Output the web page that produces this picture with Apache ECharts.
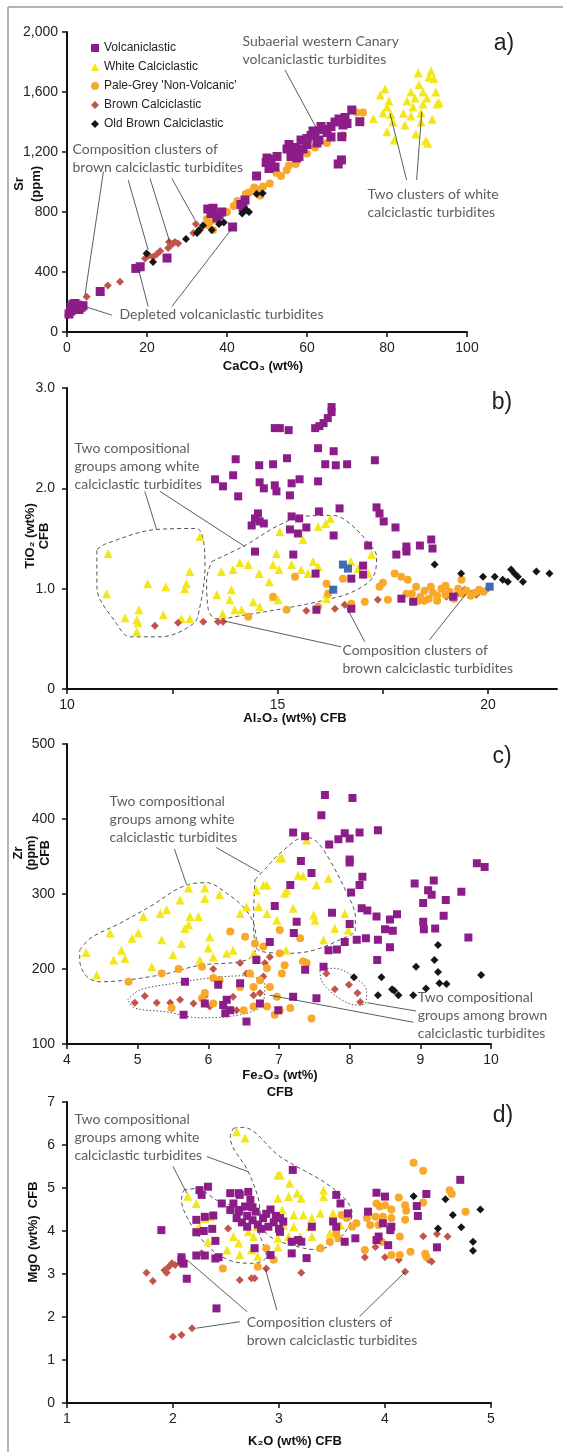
<!DOCTYPE html>
<html>
<head>
<meta charset="utf-8">
<title>Turbidite geochemistry</title>
<script src="https://cdn.jsdelivr.net/npm/echarts@6/dist/echarts.min.js"></script>
</head>
<body style="margin:0;background:#fff">
<div id="chart" style="width:563px;height:1452px"></div>
<script>
// ---- panel a : CaCO3 vs Sr
var aVolc = [[0.5,120],[1,140],[1,165],[1.5,150],[2,170],[2,190],[2.5,180],[3,150],[3,175],[3.5,165],[4,175],[1.5,185],
  [8.3,270],[17.2,424],[18.3,435],[25,493],[35.2,820],[36.5,825],[38,780],[38.7,800],[37.5,760],[36,790],
  [41.4,700],[43.5,850],[44.5,880],[44,830],[47.4,1040],[49.8,1130],[51,1150],[52,1100],[50.5,1090],[52.5,1170],[50,1160],
  [55.5,1250],[56,1170],[58,1170],[57,1230],[58.5,1280],[57.4,1160],[55,1220],
  [60,1290],[61,1310],[62,1320],[63,1280],[64,1350],[65,1330],[62.5,1260],[60,1250],[66,1300],[59,1220],[61.5,1340],[63.5,1370],
  [66,1370],[67,1400],[68,1420],[69,1380],[70,1390],[71.2,1480],[68.7,1302],[68.6,1147],[67.8,1120],[73.2,1402],[69.5,1430]];
var aWhite = [[76.6,1424],[78.3,1580],[79.5,1620],[80,1500],[79,1460],[81,1450],[80.5,1540],[81.5,1400],[80,1335],[81.8,1280],
  [84.1,1458],[85,1540],[86,1600],[86.5,1500],[87,1560],[87.8,1729],[88,1650],[88.5,1460],[89,1600],[89,1520],[89.7,1276],
  [90.5,1700],[90,1560],[91,1740],[91.3,1418],[91.7,1690],[92.2,1600],[92.5,1520],[93,1530],[87.2,1320],[90.2,1258],[86,1440],[84.5,1380],[88.5,1400]];
var aPale = [[35,753],[35.3,713],[36,740],[36.5,680],[40,800],[41.7,840],[42.6,873],[44.7,920],[46.8,963],[48.3,910],[49,970],
  [50.7,990],[52.4,1060],[54.9,1080],[57.2,1120],[60,1190],[62,1230],[65,1260],[69,1311],[72.4,1464],[74,1464],[45.5,930],[47.5,950],[53.5,1040],[55.5,1110]];
var aBrown = [[0.3,113],[1,130],[2,150],[4.9,235],[10.2,310],[13.25,335],[19.5,490],[20.5,510],[21.5,500],[22.5,520],[23.3,540],
  [25.3,560],[26,580],[26.5,590],[27,600],[27.8,590],[25.5,600],[31.6,660],[32.2,720],[33.3,680]];
var aOld = [[19.9,524],[21.5,467],[29.75,620],[32.5,660],[33,680],[34,710],[36.2,680],[38,720],[39.2,730],[43.8,790],[44.8,815],[45.5,800],[47.4,920],[48.9,925]];
var aNotes = [
  {at:[44,1993], text:'Subaerial western Canary\nvolcaniclastic turbidites'},
  {at:[75.25,973], text:'Two clusters of white\ncalciclastic turbidites'},
  {at:[1.5,1273], text:'Composition clusters of\nbrown calciclastic turbidites'},
  {at:[13.25,173], text:'Depleted volcaniclastic turbidites'}
];
var aLeaders = [[[54.5,1747],[62.4,1357]],[[84.9,1013],[80.75,1458]],[[87.4,1013],[88.7,1469]],
  [[9.1,1069],[4.5,247]],[[15.3,1013],[20.3,547]],[[20.75,1024],[25.75,595]],[[26.2,1024],[32,747]],
  [[11.2,113],[4.5,169]],[[20.3,169],[17.8,425]],[[26.2,169],[41.6,702]]];

// ---- panel b : Al2O3 vs TiO2
var bVolc = [[16.29,2.81],[16.29,2.76],[15.9,2.6],[16.0,2.62],[16.1,2.65],[16.2,2.7],[14.94,2.6],[15.06,2.6],[15.27,2.58],
  [15.97,2.4],[16.34,2.37],[14.01,2.29],[14.57,2.23],[14.9,2.24],[15.23,2.3],[16.14,2.24],[16.39,2.23],[16.66,2.24],[17.32,2.28],
  [13.52,2.09],[13.71,2.02],[13.95,2.13],[14.07,1.92],[14.58,2.06],[14.68,2.0],[14.94,2.03],[14.98,1.97],[15.34,2.05],[15.53,2.09],[15.3,1.93],[15.97,2.07],
  [14.54,1.75],[14.39,1.63],[14.58,1.67],[14.68,1.65],[14.47,1.7],[15.34,1.72],[15.52,1.7],[15.69,1.61],[15.3,1.59],[15.49,1.55],
  [15.99,1.77],[16.48,1.8],[16.34,1.53],[17.36,1.81],[17.43,1.75],[17.53,1.67],[17.81,1.61],[17.16,1.43],[17.04,1.23],
  [17.83,1.34],[18.07,1.42],[18.07,1.37],[18.39,1.43],[18.66,1.49],[18.69,1.4],[14.47,1.37],[15.38,1.34],
  [15.91,1.15],[16.76,1.1],[17.04,1.14],[17.95,0.9],[18.23,0.87],[15.93,0.79],[16.76,0.8],[19.18,0.92]];
var bWhite = [[10.98,1.35],[10.94,0.95],[13.16,1.52],[12.92,1.17],[12.84,1.05],[12.8,1.0],[11.92,1.05],[12.35,1.02],
  [11.38,0.71],[11.71,0.79],[11.66,0.69],[11.69,0.66],[11.66,0.57],[12.29,0.74],[12.72,0.7],[12.92,0.7],
  [13.67,1.17],[13.95,1.19],[14.11,1.26],[14.31,1.24],[14.57,1.15],[14.81,1.07],[15.04,1.19],[14.9,1.24],[14.98,1.35],
  [13.56,0.94],[13.91,0.99],[13.87,0.89],[13.7,0.75],[13.99,0.79],[14.15,0.79],[14.43,0.87],[14.58,0.82],[14.9,0.92],[15.02,0.89],
  [15.06,1.57],[15.61,1.49],[15.34,1.24],[15.57,1.19],[15.85,1.27],[15.97,1.22],[15.73,1.15],[15.97,1.62],[16.15,1.65],[16.26,1.7],
  [16.75,1.27],[16.92,1.2],[17.24,1.34],[17.16,1.15],[16.17,0.9],[16.17,0.95]];
var bPale = [[15.42,1.12],[14.9,0.92],[15.22,0.79],[14.31,0.72],[15.97,0.82],[16.17,1.05],[16.21,0.95],[16.56,1.1],[16.76,0.85],
  [17.08,0.87],[17.43,1.02],[17.51,1.06],[17.63,0.89],[17.79,1.15],[17.95,1.12],[18.1,1.09],[18.07,0.95],
  [18.2,0.95],[18.4,0.92],[18.5,0.98],[18.6,0.9],[18.7,0.96],[18.8,0.93],[18.9,1.0],[19.0,0.94],[19.1,0.97],[19.2,0.9],[19.3,1.0],
  [19.4,0.95],[19.5,0.98],[19.6,0.93],[19.7,0.96],[19.8,0.99],[18.3,1.02],[18.8,0.88],[19.0,1.03],[18.5,0.88],[19.9,0.97],[19.38,1.09],[18.35,0.88],[18.65,1.02]];
var bBrown = [[12.09,0.63],[12.64,0.66],[13.24,0.67],[13.59,0.67],[13.71,0.67],[15.69,0.78],[15.93,0.79],[16.37,0.8],[16.6,0.84],[17.39,0.89],
  [19.02,0.92],[19.26,0.94],[19.45,0.99],[19.61,0.95],[19.73,0.94],[20.0,1.0]];
var bOld = [[18.74,1.24],[19.37,1.15],[19.89,1.12],[20.17,1.12],[20.36,1.09],[20.48,1.07],[20.56,1.19],[20.64,1.15],[20.72,1.12],[20.84,1.07],[21.16,1.17],[21.47,1.15]];
var bBlue = [[16.56,1.24],[16.68,1.2],[16.33,0.99],[20.05,1.02]];
var bNotes = [
  {at:[10.19,2.48], text:'Two compositional\ngroups among white\ncalciclastic turbidites'},
  {at:[16.56,0.47], text:'Composition clusters of\nbrown calciclastic turbidites'}
];
var bLeaders = [[[11.85,1.97],[12.13,1.59]],[[12.21,1.97],[14.23,1.42]],
  [[16.52,0.42],[13.71,0.68]],[[17.08,0.47],[16.64,0.82]],[[18.62,0.49],[19.49,0.95]]];
var bDashed = [
  [[10.71,1.39],[10.94,1.45],[12.13,1.59],[13.08,1.6],[13.24,1.49],[13.28,1.22],[13.16,0.82],[13.0,0.65],[12.21,0.52],[11.5,0.52],[11.18,0.65],[10.71,1.02],[10.71,1.39]],
  [[13.44,1.27],[14.27,1.44],[14.98,1.62],[15.61,1.72],[16.33,1.73],[16.72,1.65],[17.2,1.44],[17.36,1.32],[17.28,1.12],[16.8,0.97],[16.17,0.89],[15.38,0.82],[14.27,0.74],[13.56,0.7],[13.36,0.79],[13.32,1.09],[13.44,1.27]]
];

// ---- panel c : Fe2O3 vs Zr
var cVolc = [[7.65,432],[8.04,428],[7.6,405],[7.2,382],[7.37,377],[7.71,366],[7.84,373],[7.93,381],[8.0,374],[8.14,382],[8.4,385],
  [7.31,344],[7.46,328],[7.16,312],[8.0,346],[8.0,342],[8.18,323],[8.14,312],[8.02,302],[8.17,281],[8.25,278],[8.38,270],[8.57,266],[8.67,273],
  [8.5,253],[8.61,251],[8.4,239],[8.57,229],[8.39,212],[7.75,275],[7.25,263],[7.21,248],[8.0,260],[8.1,239],[8.23,241],[7.93,236],[7.82,226],[7.7,225],[7.63,203],[7.37,199],
  [7.2,163],[7.53,161],[8.92,314],[9.19,318],[9.11,305],[9.16,299],[9.04,288],[9.36,292],[9.58,303],[9.33,271],[9.04,263],[9.05,253],[9.21,254],[9.68,242],[9.8,341],[9.91,336],
  [6.94,284],[6.87,236],[6.68,212],[5.67,183],[6.14,179],[6.45,181],[5.95,154],[6.21,152],[6.26,159],[6.31,145],[6.24,141],[6.73,154],[5.65,139],[6.54,130],[6.99,145]];
var cWhite = [[4.27,222],[4.42,192],[4.61,248],[4.66,212],[4.77,225],[4.82,214],[4.92,241],[5.01,248],[5.08,270],[5.2,203],[5.32,274],[5.34,239],[5.41,279],
  [5.5,219],[5.62,234],[5.67,254],[5.72,259],[5.74,270],[5.6,292],[5.72,308],[5.86,270],[5.88,212],[5.95,294],[5.95,308],[6.02,243],[6.0,228],[6.07,216],
  [6.16,299],[6.26,221],[6.35,225],[6.45,274],[6.54,283],[6.64,221],[6.68,305],[6.78,312],[6.83,312],[6.71,283],[6.83,274],[6.97,265],[7.01,348],
  [7.39,372],[7.04,348],[7.27,325],[7.34,324],[7.53,312],[7.7,321],[7.08,301],[7.11,305],[7.2,281],[7.49,272],[7.51,265],[7.79,254],[7.93,274],[7.98,252],[7.63,239],[7.1,225]];
var cPale = [[4.87,183],[5.34,194],[5.58,200],[5.48,148],[5.91,203],[5.95,168],[6.07,188],[6.16,185],[5.91,161],[6.07,154],[6.31,250],[6.52,243],[6.66,234],[6.68,214],[6.78,230],
  [6.45,176],[6.64,176],[6.59,194],[6.73,185],[6.83,201],[6.87,176],[6.94,139],[6.83,150],[6.64,150],[6.5,145],[6.97,163],
  [7.01,252],[7.3,241],[7.01,221],[7.08,205],[7.04,194],[7.34,210],[7.39,208],[7.16,148],[7.01,145],[7.46,134]];
var cBrown = [[4.96,155],[5.1,164],[5.27,155],[5.46,155],[5.6,159],[5.79,154],[5.95,164],[6.02,150],[6.07,200],[6.16,186],[6.35,163],[6.4,145],
  [6.45,208],[6.54,194],[6.64,165],[6.73,168],[6.78,190],[6.8,208],[6.87,216],[7.67,194],[7.79,173],[7.99,179],[8.11,168],[8.15,156]];
var cOld = [[8.06,189],[8.45,189],[8.4,165],[8.6,173],[8.63,171],[8.69,165],[8.9,165],[9.08,174],[9.25,232],[9.2,212],[9.25,196],[8.94,203],[9.27,181],[9.37,180],[9.86,192]];
var cNotes = [
  {at:[4.61,434.7], text:'Two compositional\ngroups among white\ncalciclastic turbidites'},
  {at:[8.97,173.3], text:'Two compositional\ngroups among brown\ncalciclastic turbidites'}
];
var cLeaders = [[[5.52,360],[5.69,313]],[[6.11,362],[6.73,329]],[[8.94,144],[8.25,155]],[[8.9,129],[6.87,165]]];
var cDashed = [
  [[4.18,225],[4.33,241],[4.75,261],[5.17,283],[5.69,312],[5.98,315],[6.26,301],[6.49,283],[6.64,261],[6.68,230],[6.54,212],[5.88,205],[5.32,192],[4.47,183],[4.28,190],[4.18,212],[4.18,225]],
  [[6.66,319],[6.83,336],[7.01,354],[7.37,376],[7.53,370],[7.72,345],[7.96,301],[8.08,270],[8.08,252],[7.86,239],[7.49,225],[7.16,221],[6.71,225],[6.64,265],[6.66,319]]
];
var cDotted = [
  [[4.86,159],[5.03,172],[5.53,181],[6.02,188],[6.52,191],[6.8,179],[6.76,152],[6.45,139],[5.88,135],[5.39,143],[4.96,148],[4.86,159]],
  [[7.58,199],[7.77,201],[8.05,190],[8.24,170],[8.22,154],[8.1,152],[7.82,163],[7.6,185],[7.58,199]]
];

// ---- panel d : K2O vs MgO
var dVolc = [[1.89,4.02],[2.25,4.95],[2.33,5.03],[2.27,4.84],[2.22,4.26],[2.3,4.33],[2.38,4.36],[2.22,3.97],[2.29,4.0],[2.37,4.05],[2.4,3.77],
  [2.43,3.39],[2.22,3.43],[2.3,3.43],[2.08,3.39],[2.1,3.24],[2.13,2.89],[2.08,3.32],[2.4,3.36],[2.41,2.2],
  [2.46,4.64],[2.54,4.88],[2.62,4.88],[2.57,4.64],[2.71,4.91],[2.63,4.84],[2.54,4.49],[2.62,4.49],[2.68,4.57],[2.73,4.72],
  [2.6,4.3],[2.65,4.2],[2.7,4.35],[2.75,4.25],[2.8,4.15],[2.85,4.3],[2.9,4.1],[2.95,4.2],[3.0,4.05],[2.78,4.45],[2.88,4.4],[2.92,4.5],
  [2.7,4.1],[2.83,4.05],[2.97,4.35],[2.62,4.45],[2.75,4.55],[2.77,3.6],[2.92,3.44],[3.13,5.42],[3.01,4.3],[3.04,4.22],[3.01,3.98],
  [3.12,3.75],[3.18,3.79],[3.21,3.75],[3.12,3.48],[3.26,3.37],[3.31,4.1],[3.54,4.84],[3.58,4.64],[3.65,4.41],[3.51,4.22],[3.54,4.1],[3.62,3.75],[3.72,3.83],
  [3.84,4.45],[3.92,4.89],[4.0,4.8],[3.98,4.18],[4.06,4.1],[3.94,3.87],[3.92,3.79],[4.03,3.67],[4.05,4.02],[4.3,4.58],[4.31,4.35],[4.39,4.86],[4.49,3.62],[4.71,5.19]];
var dWhite = [[2.6,6.31],[2.68,6.16],[2.14,4.81],[2.22,4.64],[2.25,4.1],[2.3,4.29],[2.35,4.33],[2.22,4.02],[2.33,3.75],[2.51,3.56],[2.57,3.87],[2.62,3.72],
  [2.63,3.45],[2.71,3.98],[2.74,3.56],[2.76,3.87],[2.79,4.1],[2.8,3.41],[2.99,5.3],[2.99,4.76],[2.99,3.83],[2.99,3.63],
  [3.01,5.3],[3.1,5.11],[3.09,4.8],[3.17,4.88],[3.21,4.76],[3.42,4.95],[3.42,4.8],[3.03,4.49],[3.14,4.37],[3.23,4.37],[3.31,4.3],[3.39,4.41],
  [3.51,4.41],[3.04,4.14],[3.14,4.1],[3.29,4.1],[3.09,3.87],[3.2,3.87],[3.31,3.87],[3.39,3.63],[3.48,3.95],[3.58,4.14]];
var dPale = [[2.47,3.13],[2.8,3.17],[2.88,3.6],[2.95,3.33],[4.27,5.59],[4.36,5.4],[4.61,4.95],[4.63,4.86],[4.76,4.45],[4.36,4.66],
  [4.13,4.78],[4.19,4.6],[4.2,4.47],[4.19,4.26],[4.14,3.87],[3.92,4.64],[3.95,4.57],[4.0,4.6],[4.06,4.5],[3.91,4.33],[3.98,4.33],[4.06,4.3],
  [3.94,4.14],[3.86,4.14],[3.83,4.3],[3.97,3.75],[3.81,3.56],[4.06,3.44],[4.14,3.44],[4.24,3.52],[4.38,3.47],[4.39,3.4],
  [3.59,4.37],[3.64,4.3],[3.73,4.18],[3.69,4.1],[3.54,3.95],[3.56,3.83],[3.48,3.75],[3.39,3.6]];
var dBrown = [[1.75,3.03],[1.81,2.84],[1.92,3.09],[1.96,3.17],[1.99,3.25],[2.02,3.21],[1.94,3.03],[2.07,3.25],[2.0,1.54],[2.08,1.58],[2.18,1.74],
  [2.27,3.48],[2.52,4.06],[2.63,2.86],[2.74,2.9],[2.77,2.9],[2.88,3.13],[3.21,3.03],[3.81,3.39],[3.91,3.63],[4.0,3.39],[4.13,3.33],[4.19,3.05],
  [4.36,3.88],[4.41,3.33],[4.44,3.29],[4.49,3.93],[4.59,3.87]];
var dOld = [[5.02,5.95],[5.13,5.69],[5.13,5.61],[4.27,4.81],[4.57,4.74],[4.64,4.37],[4.9,4.5],[4.5,4.06],[4.72,4.09],[4.83,3.75],[4.83,3.54]];
var dNotes = [
  {at:[1.075,6.79], text:'Two compositional\ngroups among white\ncalciclastic turbidites'},
  {at:[2.7,2.07], text:'Composition clusters of\nbrown calciclastic turbidites'}
];
var dLeaders = [[[2.32,5.73],[2.71,5.38]],[[2.0,5.5],[2.13,4.88]],[[2.7,2.12],[2.13,3.33]],[[2.98,2.16],[2.87,3.13]],
  [[2.63,1.89],[2.22,1.74]],[[3.76,2.01],[4.19,3.05]]];
var dDashed = [
  [[2.57,6.39],[2.66,6.41],[3.01,5.73],[3.51,4.99],[3.69,4.41],[3.59,3.87],[3.36,3.57],[3.23,3.6],[2.88,3.95],[2.8,4.8],[2.71,5.38],[2.54,6.19],[2.57,6.39]],
  [[2.1,4.95],[2.22,4.99],[2.41,4.72],[2.7,4.41],[2.85,3.71],[2.88,3.4],[2.76,3.25],[2.63,3.26],[2.41,3.48],[2.25,3.87],[2.13,4.33],[2.08,4.72],[2.1,4.95]]
];

var C = {volc:'#8b1c88', white:'#f3e71b', pale:'#f8a92a', brown:'#c1554b', old:'#161616', blue:'#3e6db5'};
var kinds = [
  {key:'white', name:'White Calciclastic', symbol:'triangle', size:9},
  {key:'brown', name:'Brown Calciclastic', symbol:'diamond', size:8},
  {key:'pale', name:"Pale-Grey 'Non-Volcanic'", symbol:'circle', size:8},
  {key:'volc', name:'Volcaniclastic', symbol:'rect', size:8},
  {key:'old', name:'Old Brown Calciclastic', symbol:'diamond', size:8},
  {key:'blue', name:'', symbol:'rect', size:8}
];
var panels = [
  {x:0, y:0, pts:{volc:aVolc, white:aWhite, pale:aPale, brown:aBrown, old:aOld}, notes:aNotes, leaders:aLeaders, dashed:[], dotted:[]},
  {x:1, y:1, pts:{volc:bVolc, white:bWhite, pale:bPale, brown:bBrown, old:bOld, blue:bBlue}, notes:bNotes, leaders:bLeaders, dashed:bDashed, dotted:[]},
  {x:3, y:3, pts:{volc:cVolc, white:cWhite, pale:cPale, brown:cBrown, old:cOld}, notes:cNotes, leaders:cLeaders, dashed:cDashed, dotted:cDotted},
  {x:4, y:4, pts:{volc:dVolc, white:dWhite, pale:dPale, brown:dBrown, old:dOld}, notes:dNotes, leaders:dLeaders, dashed:dDashed, dotted:[]}
];

var AX = 'Liberation Sans, Arial, DejaVu Sans';
var NOTE = 'Lato, Open Sans, sans-serif';

function axis(min, max, interval, extra) {
  var o = {
    type:'value', min:min, max:max, interval:interval,
    axisLine:{show:true, onZero:false, lineStyle:{color:'#111', width:2}},
    axisTick:{show:true, inside:false, length:5, lineStyle:{color:'#111', width:1.5}},
    axisLabel:{color:'#222', fontSize:14, fontFamily:AX, margin:9},
    splitLine:{show:false}
  };
  for (var k in extra) o[k] = extra[k];
  return o;
}
function ylab(m, fmt) { return {color:'#222', fontSize:14, fontFamily:AX, margin:m, formatter:fmt}; }

var series = [];
panels.forEach(function (p) {
  p.dashed.concat(p.dotted).forEach(function (line, i) {
    var dotted = i >= p.dashed.length;
    series.push({type:'line', xAxisIndex:p.x, yAxisIndex:p.y, data:line, smooth:0.35, symbol:'none', silent:true, z:1,
      lineStyle:{color:'#555', width:1, type: dotted ? [1.5, 2] : [4, 3]}});
  });
  kinds.forEach(function (k) {
    if (!p.pts[k.key]) return;
    series.push({type:'scatter', name:k.name, xAxisIndex:p.x, yAxisIndex:p.y, data:p.pts[k.key],
      symbol:k.symbol, symbolSize: (p.x === 0 && k.key === 'volc') ? 9 : k.size, z:3,
      itemStyle:{color:C[k.key], opacity:1}});
  });
  series.push({type:'scatter', xAxisIndex:p.x, yAxisIndex:p.y, symbolSize:1, silent:true, z:5,
    itemStyle:{color:'rgba(0,0,0,0)'},
    data:p.notes.map(function (n) { return {value:n.at, label:{formatter:n.text}}; }),
    label:{show:true, position:[0,0], align:'left', verticalAlign:'top', fontFamily:NOTE, fontSize:14, lineHeight:18, color:'#333'},
    markLine:{silent:true, symbol:['none','none'], label:{show:false}, animation:false,
      lineStyle:{color:'#333', width:0.8, type:'solid'},
      emphasis:{disabled:true},
      data:p.leaders.map(function (l) { return [{coord:l[0]}, {coord:l[1]}]; })}
  });
});

function txt(s, x, y, opt) {
  var st = {text:s, fill:'#111', fontFamily:AX, fontSize:13, fontWeight:'bold', align:'center', verticalAlign:'middle'};
  for (var k in opt) st[k] = opt[k];
  return {type:'text', x:x, y:y, rotation:st.rot || 0, silent:true, style:st};
}

var option = {
  animation:false,
  backgroundColor:'#fff',
  grid:[
    {left:67, top:32, width:400, height:300, outerBoundsMode:'none'},
    {left:67, top:388, width:490, height:301, outerBoundsMode:'none'},
    {left:67, top:388, width:421, height:301, outerBoundsMode:'none'},
    {left:67, top:744, width:424, height:300, outerBoundsMode:'none'},
    {left:67, top:1102, width:424, height:301, outerBoundsMode:'none'}
  ],
  xAxis:[
    axis(0, 100, 20, {gridIndex:0}),
    axis(10, 21.65, 2.5, {gridIndex:1, axisTick:{show:false}, axisLabel:{show:false}}),
    axis(10, 20, 2.5, {gridIndex:2, axisLine:{show:false, onZero:false},
      axisLabel:{color:'#222', fontSize:14, fontFamily:AX, margin:9, formatter:function (v) { return v % 5 === 0 ? v : ''; }}}),
    axis(4, 10, 1, {gridIndex:3}),
    axis(1, 5, 1, {gridIndex:4})
  ],
  yAxis:[
    axis(0, 2000, 400, {gridIndex:0, axisLabel:ylab(9, function (v) { return v.toLocaleString('en-US'); })}),
    axis(0, 3, 1, {gridIndex:1, axisLabel:ylab(12, function (v) { return v === 0 ? '0' : v.toFixed(1); })}),
    axis(0, 3, 1, {gridIndex:2, show:false}),
    axis(100, 500, 100, {gridIndex:3, axisLabel:ylab(12)}),
    axis(0, 7, 1, {gridIndex:4, axisLabel:ylab(12)})
  ],
  legend:{
    orient:'vertical', left:91, top:42, itemWidth:8, itemHeight:8, itemGap:7, padding:0,
    textStyle:{color:'#222', fontSize:12, fontFamily:AX},
    selectedMode:false,
    data:[
      {name:'Volcaniclastic', icon:'rect'},
      {name:'White Calciclastic', icon:'triangle'},
      {name:"Pale-Grey 'Non-Volcanic'", icon:'circle'},
      {name:'Brown Calciclastic', icon:'diamond'},
      {name:'Old Brown Calciclastic', icon:'diamond'}
    ]
  },
  graphic:[
    {type:'line', silent:true, shape:{x1:8, y1:7, x2:563, y2:7}, style:{stroke:'#9a9a9a', lineWidth:1.5}},
    {type:'line', silent:true, shape:{x1:8, y1:7, x2:8, y2:1452}, style:{stroke:'#9a9a9a', lineWidth:1.5}},
    txt('CaCO\u2083 (wt%)', 263, 366),
    txt('Sr\n(ppm)', 28, 184, {rot:Math.PI / 2, lineHeight:17}),
    txt('Al\u2082O\u2083 (wt%) CFB', 295, 718),
    txt('TiO\u2082 (wt%)\nCFB', 37, 536, {rot:Math.PI / 2, lineHeight:14}),
    txt('Fe\u2082O\u2083 (wt%)\nCFB', 280, 1084, {lineHeight:17}),
    txt('Zr\n(ppm)\nCFB', 32, 853, {rot:Math.PI / 2, lineHeight:13.5, fontSize:12.5}),
    txt('K\u2082O (wt%) CFB', 295, 1441),
    txt('MgO (wt%)  CFB', 33, 1232, {rot:Math.PI / 2}),
    txt('a)', 504, 44, {fontSize:23, fontWeight:'normal', fill:'#222'}),
    txt('b)', 502, 403, {fontSize:23, fontWeight:'normal', fill:'#222'}),
    txt('c)', 502, 757, {fontSize:23, fontWeight:'normal', fill:'#222'}),
    txt('d)', 503, 1116, {fontSize:23, fontWeight:'normal', fill:'#222'})
  ],
  series:series
};

var myChart = echarts.init(document.getElementById('chart'));
myChart.setOption(option);
</script>
</body>
</html>
